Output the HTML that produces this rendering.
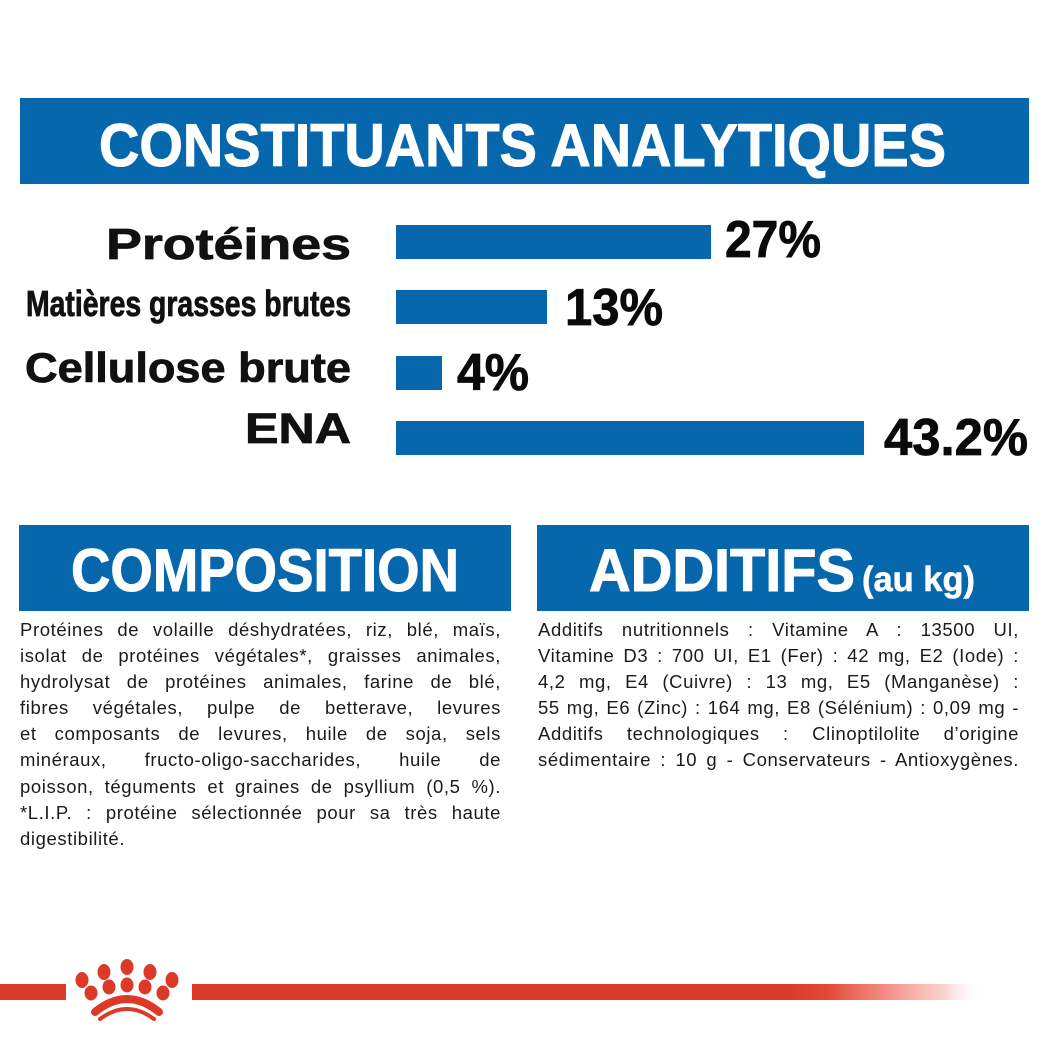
<!DOCTYPE html>
<html>
<head>
<meta charset="utf-8">
<style>
  html, body { margin:0; padding:0; background:#fff; }
  body { width:1049px; height:1049px; position:relative; overflow:hidden; }
  svg.main { position:absolute; left:0; top:0; }
  .para { position:absolute; width:481px; font-family:"Liberation Sans", sans-serif; font-size:18.5px; letter-spacing:0.6px; line-height:26.2px; color:#1b1b1b; }
  .para div { text-align:justify; text-align-last:justify; height:26.2px; overflow:visible; }
  .para div.last { text-align-last:left; }
</style>
</head>
<body>
<svg class="main" width="1049" height="1049" viewBox="0 0 1049 1049" xmlns="http://www.w3.org/2000/svg">
  <!-- Header bar -->
  <rect x="20" y="98" width="1009" height="86" fill="#0767ad"/>
  <text x="99" y="166" font-family="Liberation Sans, sans-serif" font-weight="bold" font-size="60" fill="#fff" stroke="#fff" stroke-width="1" textLength="847" lengthAdjust="spacingAndGlyphs">CONSTITUANTS ANALYTIQUES</text>

  <!-- Labels -->
  <g font-family="Liberation Sans, sans-serif" font-weight="bold" fill="#111" stroke="#111" stroke-width="0.8">
    <text x="106" y="259" font-size="44" textLength="245" lengthAdjust="spacingAndGlyphs">Protéines</text>
    <text x="26" y="316" font-size="36" textLength="325" lengthAdjust="spacingAndGlyphs">Matières grasses brutes</text>
    <text x="25" y="382" font-size="42" textLength="326" lengthAdjust="spacingAndGlyphs">Cellulose brute</text>
    <text x="245" y="443" font-size="43" textLength="106" lengthAdjust="spacingAndGlyphs">ENA</text>
  </g>

  <!-- Bars -->
  <g fill="#0767ad">
    <rect x="396" y="225" width="315" height="34"/>
    <rect x="396" y="290" width="151" height="34"/>
    <rect x="396" y="356" width="46" height="34"/>
    <rect x="396" y="421" width="468" height="34"/>
  </g>

  <!-- Values -->
  <g font-family="Liberation Sans, sans-serif" font-weight="bold" fill="#0a0a0a" stroke="#0a0a0a" stroke-width="0.8" font-size="52">
    <text x="725" y="257" textLength="96" lengthAdjust="spacingAndGlyphs">27%</text>
    <text x="565" y="325" textLength="98" lengthAdjust="spacingAndGlyphs">13%</text>
    <text x="457" y="390" textLength="72" lengthAdjust="spacingAndGlyphs">4%</text>
    <text x="884" y="455" textLength="144" lengthAdjust="spacingAndGlyphs">43.2%</text>
  </g>

  <!-- Composition header -->
  <rect x="19" y="525" width="492" height="86" fill="#0767ad"/>
  <text x="71" y="591" font-family="Liberation Sans, sans-serif" font-weight="bold" font-size="60" fill="#fff" stroke="#fff" stroke-width="1" textLength="388" lengthAdjust="spacingAndGlyphs">COMPOSITION</text>

  <!-- Additifs header -->
  <rect x="537" y="525" width="492" height="86" fill="#0767ad"/>
  <text x="589" y="591" font-family="Liberation Sans, sans-serif" font-weight="bold" font-size="60" fill="#fff" stroke="#fff" stroke-width="1" textLength="266" lengthAdjust="spacingAndGlyphs">ADDITIFS</text>
  <text x="862" y="591" font-family="Liberation Sans, sans-serif" font-weight="bold" font-size="35" fill="#fff" stroke="#fff" stroke-width="0.6" textLength="113" lengthAdjust="spacingAndGlyphs">(au kg)</text>

  <!-- Footer red line -->
  <defs>
    <linearGradient id="fade" x1="0" y1="0" x2="1" y2="0">
      <stop offset="0" stop-color="#dc3a26" stop-opacity="1"/>
      <stop offset="0.2" stop-color="#e24a36" stop-opacity="1"/>
      <stop offset="0.5" stop-color="#f47a6e" stop-opacity="0.85"/>
      <stop offset="0.8" stop-color="#f8b0a8" stop-opacity="0.6"/>
      <stop offset="1" stop-color="#ffffff" stop-opacity="0"/>
    </linearGradient>
  </defs>
  <rect x="0" y="984" width="66" height="16" fill="#dc3a26"/>
  <rect x="192" y="984" width="599" height="16" fill="#dc3a26"/>
  <rect x="790" y="984" width="192" height="16" fill="url(#fade)"/>

  <!-- Crown logo -->
  <g fill="#dc3a26">
    <ellipse cx="82" cy="980" rx="6.5" ry="8"/>
    <ellipse cx="104" cy="972" rx="6.5" ry="8"/>
    <ellipse cx="127" cy="967" rx="6.5" ry="8"/>
    <ellipse cx="150" cy="972" rx="6.5" ry="8"/>
    <ellipse cx="172" cy="980" rx="6.5" ry="8"/>
    <ellipse cx="91" cy="993" rx="6.5" ry="7.5"/>
    <ellipse cx="109" cy="987" rx="6.5" ry="7.5"/>
    <ellipse cx="127" cy="985" rx="6.5" ry="7.5"/>
    <ellipse cx="145" cy="987" rx="6.5" ry="7.5"/>
    <ellipse cx="163" cy="993" rx="6.5" ry="7.5"/>
  </g>
  <path d="M95,1012 Q127,986 159,1012" fill="none" stroke="#dc3a26" stroke-width="8" stroke-linecap="round"/>
  <path d="M100,1019 Q127,999 154,1019" fill="none" stroke="#dc3a26" stroke-width="4" stroke-linecap="round"/>
</svg>

<div class="para" style="left:20px; top:616.5px;">
  <div>Protéines de volaille déshydratées, riz, blé, maïs,</div>
  <div>isolat de protéines végétales*, graisses animales,</div>
  <div>hydrolysat de protéines animales, farine de blé,</div>
  <div>fibres végétales, pulpe de betterave, levures</div>
  <div>et composants de levures, huile de soja, sels</div>
  <div>minéraux, fructo-oligo-saccharides, huile de</div>
  <div>poisson, téguments et graines de psyllium (0,5 %).</div>
  <div>*L.I.P. : protéine sélectionnée pour sa très haute</div>
  <div class="last">digestibilité.</div>
</div>

<div class="para" style="left:538px; top:616.5px;">
  <div>Additifs nutritionnels : Vitamine A : 13500 UI,</div>
  <div>Vitamine D3 : 700 UI, E1 (Fer) : 42 mg, E2 (Iode) :</div>
  <div>4,2 mg, E4 (Cuivre) : 13 mg, E5 (Manganèse) :</div>
  <div>55 mg, E6 (Zinc) : 164 mg, E8 (Sélénium) : 0,09 mg -</div>
  <div>Additifs technologiques : Clinoptilolite d’origine</div>
  <div>sédimentaire : 10 g - Conservateurs - Antioxygènes.</div>
</div>
</body>
</html>
